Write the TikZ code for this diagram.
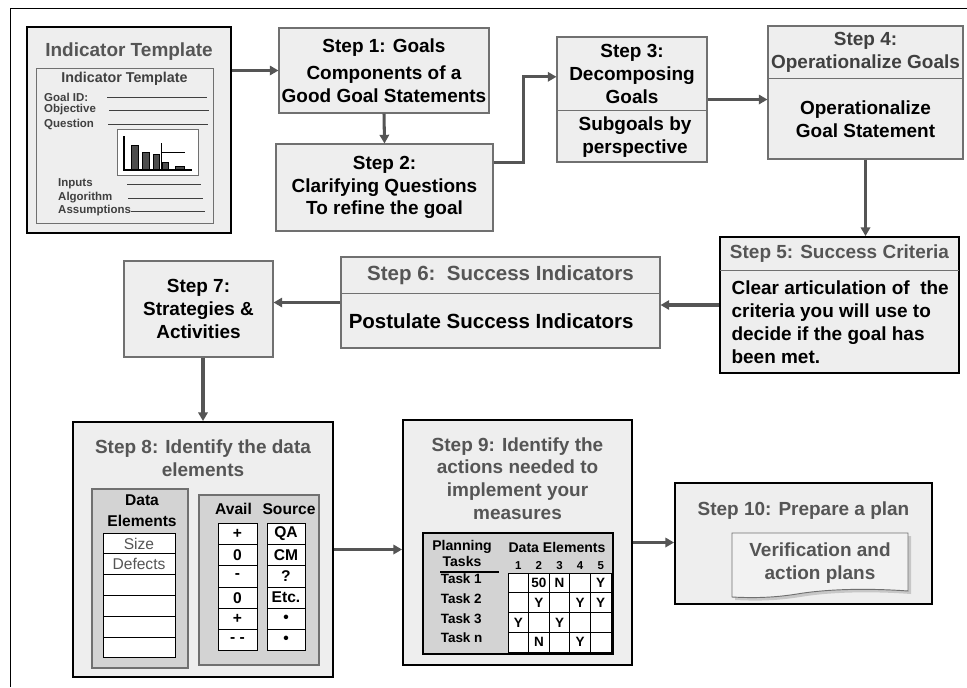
\documentclass[tikz,border=0pt]{standalone}
\usepackage{fontspec}
\setmainfont{Liberation Sans}
\usepackage{xcolor}
\usepackage{tikz}
\usetikzlibrary{arrows.meta}
\usetikzlibrary{positioning}
\usetikzlibrary{matrix}
\usetikzlibrary{calc}

\definecolor{boxfill}{HTML}{EEEEEE}
\definecolor{docfill}{HTML}{F2F2F2}
\definecolor{boxline}{HTML}{707070}
\definecolor{titlegray}{HTML}{555555}
\definecolor{darktext}{HTML}{404040}
\definecolor{arrowgray}{HTML}{555555}
\definecolor{panelgray}{HTML}{D3D3D3}

\newcommand{\pxu}{0.3mm}
\newcommand{\bigfont}{\fontsize{16.2}{19.5}\selectfont\bfseries}
\newcommand{\midfont}{\fontsize{13.3}{18.5}\selectfont\bfseries}
\newcommand{\taskfont}{\fontsize{11.5}{13.6}\selectfont\bfseries}
\newcommand{\tinyfont}{\fontsize{9.8}{11}\selectfont\bfseries}
\newcommand{\cellfont}{\fontsize{13.3}{16}\selectfont}

\tikzset{
  wh/.style 2 args={minimum width=#1*\pxu,minimum height=#2*\pxu},
  stepbox/.style={draw=boxline,fill=boxfill,line width=0.9pt,inner sep=0pt,align=center,font=\bigfont},
  heavybox/.style={stepbox,draw=black,line width=1.6pt},
  boxpart/.style={inner sep=0pt,align=center,font=\bigfont,anchor=north},
  divider/.style={draw=boxline,line width=0.9pt},
  greypanel/.style={draw=boxline,fill=panelgray,line width=1.4pt,inner sep=0pt},
  tcell/.style={draw=black,fill=white,line width=0.8pt,inner sep=0pt,anchor=center},
  formline/.style={draw=darktext,line width=0.6pt},
  flow/.style={draw=arrowgray,line width=2.6pt,-{Triangle[length=2.6mm,width=2.8mm]}}
}

\begin{document}
\begin{tikzpicture}[x=0.3mm,y=-0.3mm]
\useasboundingbox (0,0) rectangle (967,687);
\draw[line width=0.8pt] (10,687) -- (10,8) -- (967,8);

% indicator template
\node[heavybox,wh={204}{206}] (ind) at (129,130) {};
\node[font=\bigfont,text=titlegray] (indtitle) at (129,52) {Indicator Template};
\node[stepbox,line width=0.8pt,wh={177}{155}] (form) at (124.5,145.5) {};
\node[font=\fontsize{12.2}{14}\selectfont\bfseries,text=darktext] (formtitle) at (124.5,79) {Indicator Template};
\foreach \lab/\x/\y/\a/\b [count=\i] in {Goal ID:/44/97/107/207,Objective/44/110/109/209,Question/44/124/108/208,Inputs/58/184/127/201,Algorithm/58/198/128/203,Assumptions/58/211/131/205}{
  \node[font=\tinyfont,text=darktext,anchor=west,inner sep=0pt] (fl\i) at (\x,\y) {\lab};
  \draw[formline] (\a,\y) -- (\b,\y);
}
\node[draw=boxline,fill=white,line width=0.8pt,wh={81}{46}] (chart) at (157.5,152) {};
\foreach \l/\r/\t in {131/138/145,142/149/152,153/159/154,162/168/162,175/184/166}
  \draw[fill=black!70,line width=0.6pt] (\l,170) rectangle (\r,\t);
\draw[line width=0.8pt] (161,143) -- (161,170) (161,152) -- (185,152);
\draw[line width=1.3pt] (124,136) -- (124,170) -- (192,170);

% steps
\begin{scope}[every node/.style={stepbox}]
\node[wh={210}{85}] (s1) at (384,70.5) {Step 1: Goals\\[4pt]Components of a\\Good Goal Statements};
\node[wh={217}{87}] (s2) at (384.5,187.5) {Step 2:\\Clarifying Questions\\To refine the goal};
\node[wh={150}{125}] (s3) at (632,99.5) {};
\node[wh={195}{133}] (s4) at (865.5,92.5) {};
\node[heavybox,wh={239}{136}] (s5) at (839.5,305) {};
\node[wh={319}{91}] (s6) at (500.5,302.5) {};
\node[wh={149}{96}] (s7) at (198.5,309) {Step 7:\\Strategies \&\\Activities};
\node[heavybox,wh={260}{255}] (s8) at (203,549.5) {};
\node[heavybox,wh={229}{245}] (s9) at (517.5,542.5) {};
\node[heavybox,wh={257}{121}] (s10) at (803.5,543.5) {};
\end{scope}

\begin{scope}[every node/.style={boxpart}]
\node[wh={150}{74}] (t3) at (s3.north) {Step 3:\\Decomposing\\Goals};
\node[wh={195}{53},text=darktext] (t4) at (s4.north) {Step 4:\\Operationalize Goals};
\node[wh={239}{34},text=titlegray] (t5) at (s5.north) {Step 5: Success Criteria};
\node[wh={319}{37},text=titlegray,font=\fontsize{17.5}{20}\selectfont\bfseries] (t6) at (s6.north) {Step 6:\ \ Success Indicators};
\end{scope}
\foreach \n in {3,4,5,6} \draw[divider] (t\n.south west) -- (t\n.south east);

\node[font=\bigfont,align=center] (b3) at ($(t3.south)!0.5!(s3.south)+(3,0)$) {Subgoals by\\perspective};
\node[font=\bigfont,align=center] (b4) at ($(t4.south)!0.5!(s4.south)$) {Operationalize\\Goal Statement};
\node[font=\bigfont,align=left,anchor=west] (b5) at ($(t5.south west)!0.5!(s5.south west)+(8,0)$) {Clear articulation of\ \ the\\criteria you will use to\\decide if the goal has\\been met.};
\node[font=\fontsize{17.5}{20}\selectfont\bfseries,anchor=west] (b6) at ($(t6.south west)!0.5!(s6.south west)+(4,0)$) {Postulate Success Indicators};

% step 8
\node[font=\bigfont,text=titlegray,align=center] (t8) at ($(s8.north)+(0,37)$) {Step 8: Identify the data\\elements};
\node[greypanel,wh={96}{179}] (depanel) at (140,578.5) {};
\node[greypanel,wh={120}{170}] (avpanel) at (259,580) {};
\matrix (dem) [matrix of nodes,nodes={tcell,wh={72}{20.8},font=\cellfont,text=titlegray},nodes in empty cells,row sep=-0.8pt] at (139,595.5) {Size\\Defects\\ \\ \\ \\ \\};
\matrix (av) [matrix of nodes,nodes={tcell,wh={39}{21.3},font=\midfont},nodes in empty cells,row sep=-0.8pt] at (237.5,587) {+\\0\\-\\0\\+\\- -\\};
\matrix (src) [matrix of nodes,nodes={tcell,wh={38}{21.3},font=\midfont},nodes in empty cells,row sep=-0.8pt] at (286,587) {QA\\CM\\?\\Etc.\\•\\•\\};
\node[font=\midfont,align=center] (delab) at ($(dem-1-1.north)+(3,-22)$) {Data\\Elements};
\node[font=\midfont] (avlab) at ($(av-1-1.north)+(-4,-14)$) {Avail};
\node[font=\midfont] (srclab) at ($(src-1-1.north)+(3,-14)$) {Source};

% step 9
\node[font=\bigfont,text=titlegray,align=center] (t9) at ($(s9.north)+(0,59.5)$) {Step 9: Identify the\\actions needed to\\implement your\\measures};
\node[greypanel,draw=black,wh={190}{121}] (tpanel) at (518,593.5) {};
\matrix (tm) [matrix of nodes,nodes={tcell,wh={20.6}{19.75},font=\taskfont},nodes in empty cells,column sep=-0.8pt,row sep=-0.8pt] at (559.5,612.5) {
   & 50 & N &   & Y \\
   & Y  &   & Y & Y \\
 Y &    & Y &   &   \\
   & N  &   & Y &   \\
};
\node[font=\fontsize{12}{13.6}\selectfont\bfseries,align=center] (plan) at (462,553) {Planning\\Tasks};
\draw[line width=1pt] (440,572) -- (499,572);
\node[font=\fontsize{12}{14}\selectfont\bfseries] (delab9) at (557,547) {Data Elements};
\foreach \c in {1,...,5} \node[font=\tinyfont] (col\c) at ($(tm-1-\c.north)+(0,-7)$) {\c};
\foreach \t [count=\r] in {Task 1,Task 2,Task 3,Task n}
  \node[font=\taskfont,anchor=west,inner sep=0pt] (task\r) at ($(tm-\r-1.west)+(-67,-4)$) {\t};

% step 10
\node[font=\bigfont,text=titlegray] (t10) at ($(s10.north)+(0,29)$) {Step 10: Prepare a plan};
\path[fill=black!22] (735,536) -- (911,536) -- (911,594) .. controls (870,591) and (830,592) .. (800,597) .. controls (775,601) and (755,601) .. (735,600) -- cycle;
\draw[draw=boxline,fill=docfill,line width=0.8pt] (732,533) -- (908,533) -- (908,591) .. controls (867,588) and (827,589) .. (797,594) .. controls (772,598) and (752,598) .. (732,597) -- cycle;
\node[font=\bigfont,text=titlegray,align=center] (doc) at (820,563) {Verification and\\action plans};

% arrows
\begin{scope}[every edge/.style={flow}]
\path (ind.east |- s1.west) edge (s1.west);
\path (s1.south) edge (s2.north);
\path (s3.east) edge (s3.east -| s4.west);
\path (s4.south) edge (s4.south |- s5.north);
\path (s5.west) edge (s5.west -| s6.east);
\path (s6.west) edge (s6.west -| s7.east);
\path (s8.north |- s7.south) edge (s8.north);
\path (s8.east) edge (s8.east -| s9.west);
\path (s9.east) edge (s9.east -| s10.west);
\end{scope}
\draw[flow] ($(s2.north east)!0.22!(s2.south east)$) -- ++(30,0) |- ($(s3.north west)!0.32!(s3.south west)$);
\end{tikzpicture}
\end{document}
